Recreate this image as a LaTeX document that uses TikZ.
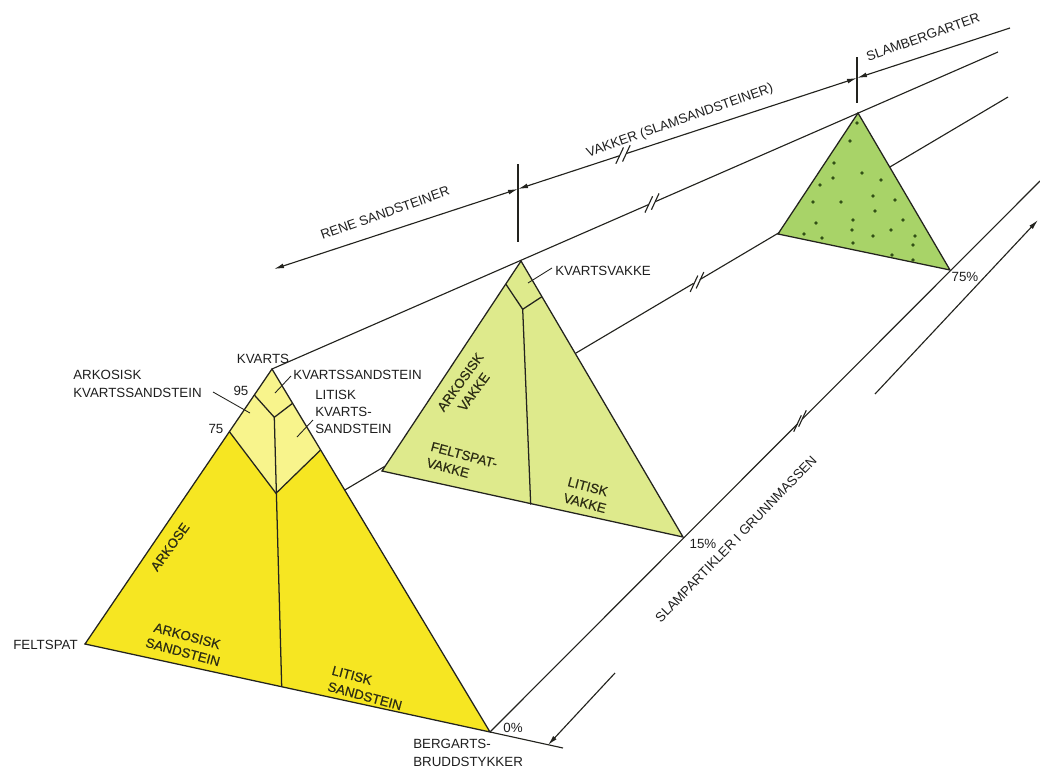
\documentclass[tikz,border=0pt]{standalone}
\usepackage{fontspec}
\setmainfont{Liberation Sans}
\newfontfamily\semibold[FakeBold=0.5]{Liberation Sans}
\usetikzlibrary{arrows.meta}

\definecolor{inkcol}{RGB}{35,35,30}
\definecolor{txtcol}{RGB}{30,30,30}
\definecolor{intxt}{RGB}{45,45,20}
\definecolor{arkyel}{RGB}{246,230,34}
\definecolor{kvayel}{RGB}{248,244,140}
\definecolor{vakcol}{RGB}{222,234,140}
\definecolor{slamcol}{RGB}{168,211,104}
\definecolor{dotcol}{RGB}{50,80,22}

% break symbol: #1 position, #2 direction of the line
\newcommand{\breakmark}[2]{%
  \begin{scope}[shift={#1}]
    \draw[white, line width=3pt] (#2:-3.5) -- (#2:3.5);
    \begin{scope}[shift={(#2:-3.5)}] \draw[guide] (-65:-9) -- (-65:9); \end{scope}
    \begin{scope}[shift={(#2:3.5)}] \draw[guide] (-65:-9) -- (-65:9); \end{scope}
  \end{scope}}

\begin{document}
\begin{tikzpicture}[x=0.75pt, y=-0.75pt, >={Latex[length=7.5pt,width=3.6pt]},
  edge/.style={draw=inkcol, line width=0.95pt},
  guide/.style={draw=inkcol, line width=0.85pt},
  lead/.style={draw=inkcol, line width=0.65pt},
  lbl/.style={text=txtcol, inner sep=0pt, align=left, font=\fontsize{10}{13}\selectfont},
  inlbl/.style={text=intxt, inner sep=0pt, align=left, font=\semibold\fontsize{10}{12.5}\selectfont}]
\useasboundingbox (0,0) rectangle (1040,771);

% corners of the three triangles
\coordinate (A1) at (272,369); \coordinate (L1) at (85,644);  \coordinate (R1) at (490,732);
\coordinate (A2) at (521,261); \coordinate (L2) at (382,471); \coordinate (R2) at (683,537);
\coordinate (A3) at (858,113); \coordinate (L3) at (778,234); \coordinate (R3) at (950,270);

% ends of the long lines
\coordinate (topE) at (1010,28);  \coordinate (apexE) at (998,52);
\coordinate (leftE) at (1008,97); \coordinate (rightE) at (1040,181);
\coordinate (baseE) at (563,748);
\coordinate (slamT) at (857,78);  \coordinate (reneT) at (518,189); \coordinate (reneW) at (274,269);
\coordinate (loA) at (615,673); \coordinate (loB) at (548,745);
\coordinate (hiA) at (875,394); \coordinate (hiB) at (1038,220);

% inner division points
\coordinate (P95L) at (254.3,395);  \coordinate (J95) at (274.3,417.3); \coordinate (P95R) at (292.6,403.3);
\coordinate (P75L) at (229.4,431.7); \coordinate (J75) at (276,493.3);  \coordinate (P75R) at (320.6,450);
\coordinate (B1) at (281.7,686.7);
\coordinate (P2L) at (505.8,284); \coordinate (J2) at (522.7,309.3); \coordinate (P2R) at (541.9,296.7);
\coordinate (B2) at (530.7,504.5);

% line through the feldspar corners (behind)
\draw[guide] (L1) -- (leftE);

% triangles
\fill[arkyel] (A1) -- (L1) -- (R1) -- cycle;
\fill[kvayel] (A1) -- (P75L) -- (J75) -- (P75R) -- cycle;
\draw[edge] (A1) -- (L1) -- (R1) -- cycle;
\draw[edge] (P95L) -- (J95) -- (P95R);
\draw[edge] (P75L) -- (J75) -- (P75R);
\draw[edge] (J95) -- (B1);

\filldraw[edge, fill=vakcol] (A2) -- (L2) -- (R2) -- cycle;
\draw[edge] (P2L) -- (J2) -- (P2R);
\draw[edge] (J2) -- (B2);

\filldraw[edge, fill=slamcol] (A3) -- (L3) -- (R3) -- cycle;
\foreach \p in {(857,123),(850,141),(834,163),(862,173),(833,178),(881,180),(820,185),
  (873,196),(895,200),(813,202),(841,202),(875,211),(853,220),(903,220),(816,223),
  (852,230),(891,230),(804,234),(822,238),(873,236),(915,236),(853,243),(913,245),
  (892,255),(913,260)}
  \fill[dotcol] \p circle[radius=1.4pt];

% long lines
\draw[guide] (A1) -- (apexE);
\draw[guide] (R1) -- (rightE);
\draw[guide] (R1) -- (baseE);
\draw[guide, ->] (topE) -- (slamT);
\draw[guide, <->] (slamT) -- (reneT);
\draw[guide, <->] (reneT) -- (reneW);
\draw[guide] (857,57) -- (857,103);
\draw[guide] (518,164) -- (518,242);
\draw[guide, ->] (loA) -- (loB);
\draw[guide, ->] (hiA) -- (hiB);

\breakmark{(623,154.5)}{-18.1}
\breakmark{(652,203)}{-23.6}
\breakmark{(697,282)}{-30.6}
\breakmark{(800,421)}{-45.1}

% labels
\node[lbl, anchor=west] (akslbl) at (73,384) {ARKOSISK\\KVARTSSANDSTEIN};
\node[lbl] (n95) at (241,391) {95};
\node[lbl] (n75) at (216,429) {75};
\node[lbl] (kvarts) at (263,359) {KVARTS};
\node[lbl, anchor=west] (kslbl) at (293,375) {KVARTSSANDSTEIN};
\node[lbl, anchor=west] (lkslbl) at (315,412) {LITISK\\KVARTS-\\SANDSTEIN};
\node[lbl, anchor=east] (feltspat) at (78,645) {FELTSPAT};
\node[lbl, anchor=west] (berg) at (413,753) {BERGARTS-\\BRUDDSTYKKER};
\node[lbl] (p0) at (513,728) {0\%};
\node[lbl] (p15) at (703,544) {15\%};
\node[lbl] (p75) at (965,277) {75\%};
\node[lbl, anchor=west] (kvlbl) at (555,271) {KVARTSVAKKE};
\node[lbl, rotate=19.5] (renelbl) at (385,213) {RENE SANDSTEINER};
\node[lbl, rotate=19.5] (vakklbl) at (680,121) {VAKKER (SLAMSANDSTEINER)};
\node[lbl, rotate=19.5] (slamlbl) at (923,37) {SLAMBERGARTER};
\node[lbl, rotate=46] (gmlbl) at (736,539) {SLAMPARTIKLER I GRUNNMASSEN};

\node[inlbl, rotate=54] (arkose) at (170,547) {ARKOSE};
\node[inlbl, rotate=-15, align=center] (arksand) at (185,644) {ARKOSISK\\SANDSTEIN};
\node[inlbl, rotate=-15] (litsand) at (367,688) {LITISK\\SANDSTEIN};
\node[inlbl, rotate=54, align=center] (arkvak) at (467,387) {ARKOSISK\\VAKKE};
\node[inlbl, rotate=-15] (feltvak) at (462,463) {FELTSPAT-\\VAKKE};
\node[inlbl, rotate=-15] (litvak) at (587,495) {LITISK\\VAKKE};

% leaders
\draw[lead] (213,392) -- (250,413);
\draw[lead] (275,393) -- (291,376);
\draw[lead] (297,437) -- (313,420);
\draw[lead] (528,283) -- (552,268);
\end{tikzpicture}
\end{document}
